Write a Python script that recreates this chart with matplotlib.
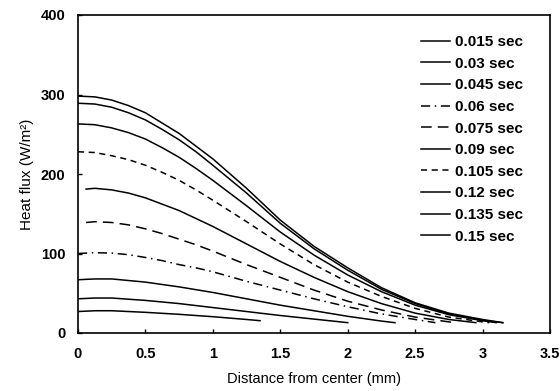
import numpy as np
import matplotlib
matplotlib.use("Agg")
import matplotlib.pyplot as plt

plt.rcParams['font.family'] = ['Liberation Sans', 'DejaVu Sans']

# heat flux curves, one per time step
times = ["0.015 sec", "0.03 sec", "0.045 sec", "0.06 sec", "0.075 sec",
         "0.09 sec", "0.105 sec", "0.12 sec", "0.135 sec", "0.15 sec"]

x015 = [0, 0.125, 0.25, 0.5, 0.75, 1.0, 1.25, 1.35]
q015 = [27, 28, 28, 26, 23.5, 20.5, 17, 15.5]

x030 = [0, 0.125, 0.25, 0.5, 0.75, 1.0, 1.25, 1.5, 1.75, 2.0]
q030 = [43, 44, 44, 41, 37, 32, 27, 22, 17.5, 13]

x045 = [0, 0.125, 0.25, 0.5, 0.75, 1.0, 1.25, 1.5, 1.75, 2.0, 2.25, 2.35]
q045 = [67, 68, 68, 64, 58, 51, 43, 35, 28, 21, 15, 13]

x060 = [0, 0.125, 0.25, 0.375, 0.5, 0.625, 0.75, 0.875, 1.0, 1.25, 1.5, 1.75,
        2.0, 2.25, 2.5, 2.65]
q060 = [100, 101, 100.5, 98.5, 95, 91, 86, 82, 77, 65, 54, 43, 33, 24, 17, 13]

x075 = [0.06, 0.125, 0.25, 0.375, 0.5, 0.625, 0.75, 0.875, 1.0, 1.25, 1.5, 1.75,
        2.0, 2.25, 2.5, 2.75, 2.8]
q075 = [139, 140, 139, 136, 131, 125, 118, 111, 103, 86, 70, 54, 40, 29, 20, 14, 13]

x090 = [0.06, 0.125, 0.25, 0.375, 0.5, 0.625, 0.75, 0.875, 1.0, 1.25, 1.5, 1.75,
        2.0, 2.25, 2.5, 2.75, 2.95]
q090 = [181, 182, 180, 176, 170, 162, 154, 144, 134, 112, 90, 70, 52, 37, 25, 17, 13]

x105 = [0, 0.125, 0.25, 0.375, 0.5, 0.625, 0.75, 0.875, 1.0, 1.25, 1.5, 1.75,
        2.0, 2.25, 2.5, 2.75, 3.0, 3.05]
q105 = [228, 227, 223, 218, 211, 202, 192, 180, 167, 140, 112, 86, 64, 46, 31, 20, 14, 13]

x120 = [0, 0.125, 0.25, 0.375, 0.5, 0.625, 0.75, 0.875, 1.0, 1.25, 1.5, 1.75,
        2.0, 2.25, 2.5, 2.75, 3.0, 3.1]
q120 = [263, 262, 258, 252, 244, 233, 221, 207, 192, 160, 127, 98, 73, 52, 35, 23, 15.5, 13]

x135 = [0, 0.125, 0.25, 0.375, 0.5, 0.625, 0.75, 0.875, 1.0, 1.25, 1.5, 1.75,
        2.0, 2.25, 2.5, 2.75, 3.0, 3.15]
q135 = [289, 288, 284, 277, 268, 256, 243, 228, 211, 176, 138, 106, 79, 55, 37, 24, 16, 13]

x150 = [0, 0.125, 0.25, 0.375, 0.5, 0.625, 0.75, 0.875, 1.0, 1.25, 1.5, 1.75,
        2.0, 2.25, 2.5, 2.75, 3.0, 3.15]
q150 = [298, 297, 293, 286, 277, 264, 251, 235, 219, 182, 142, 109, 82, 57, 38, 25, 17, 13]

xs = [x015, x030, x045, x060, x075, x090, x105, x120, x135, x150]
qs = [q015, q030, q045, q060, q075, q090, q105, q120, q135, q150]
styles = ['-', '-', '-', (0, (6, 3, 1, 3)), (0, (7, 4)), '-', (0, (4, 3)), '-', '-', '-']

fig = plt.figure(figsize=(5.6, 3.91), dpi=100)
ax = fig.add_axes([78/560, 1-333/391, 472/560, 318/391])

for xv, qv, ls, lab in zip(xs, qs, styles, times):
    ax.plot(xv, qv, color='black', lw=1.1, linestyle=ls, label=lab)

ax.set_xlim(0, 3.5)
ax.set_ylim(0, 400)
ax.set_xticks([0, 0.5, 1, 1.5, 2, 2.5, 3, 3.5])
ax.set_xticklabels(['0', '0.5', '1', '1.5', '2', '2.5', '3', '3.5'])
ax.set_yticks([0, 100, 200, 300, 400])
ax.tick_params(direction='in', length=3, width=1, labelsize=10.5)
ax.tick_params(axis='x', pad=10)
ax.tick_params(axis='y', pad=9)
for lbl in ax.get_xticklabels() + ax.get_yticklabels():
    lbl.set_fontweight('bold')
for s in ax.spines.values():
    s.set_linewidth(1.2)

ax.set_xlabel("Distance from center (mm)", fontsize=10.5, labelpad=8)
ax.set_ylabel("Heat flux (W/m²)", fontsize=11, labelpad=5)

ax.legend(loc='upper left', bbox_to_anchor=(421/560, 1-35/391),
          bbox_transform=fig.transFigure, frameon=False,
          prop={'weight': 'bold', 'size': 11}, handlelength=1.9,
          handletextpad=0.3, labelspacing=0.5, borderpad=0, borderaxespad=0)

fig.savefig("out.png", dpi=100)
